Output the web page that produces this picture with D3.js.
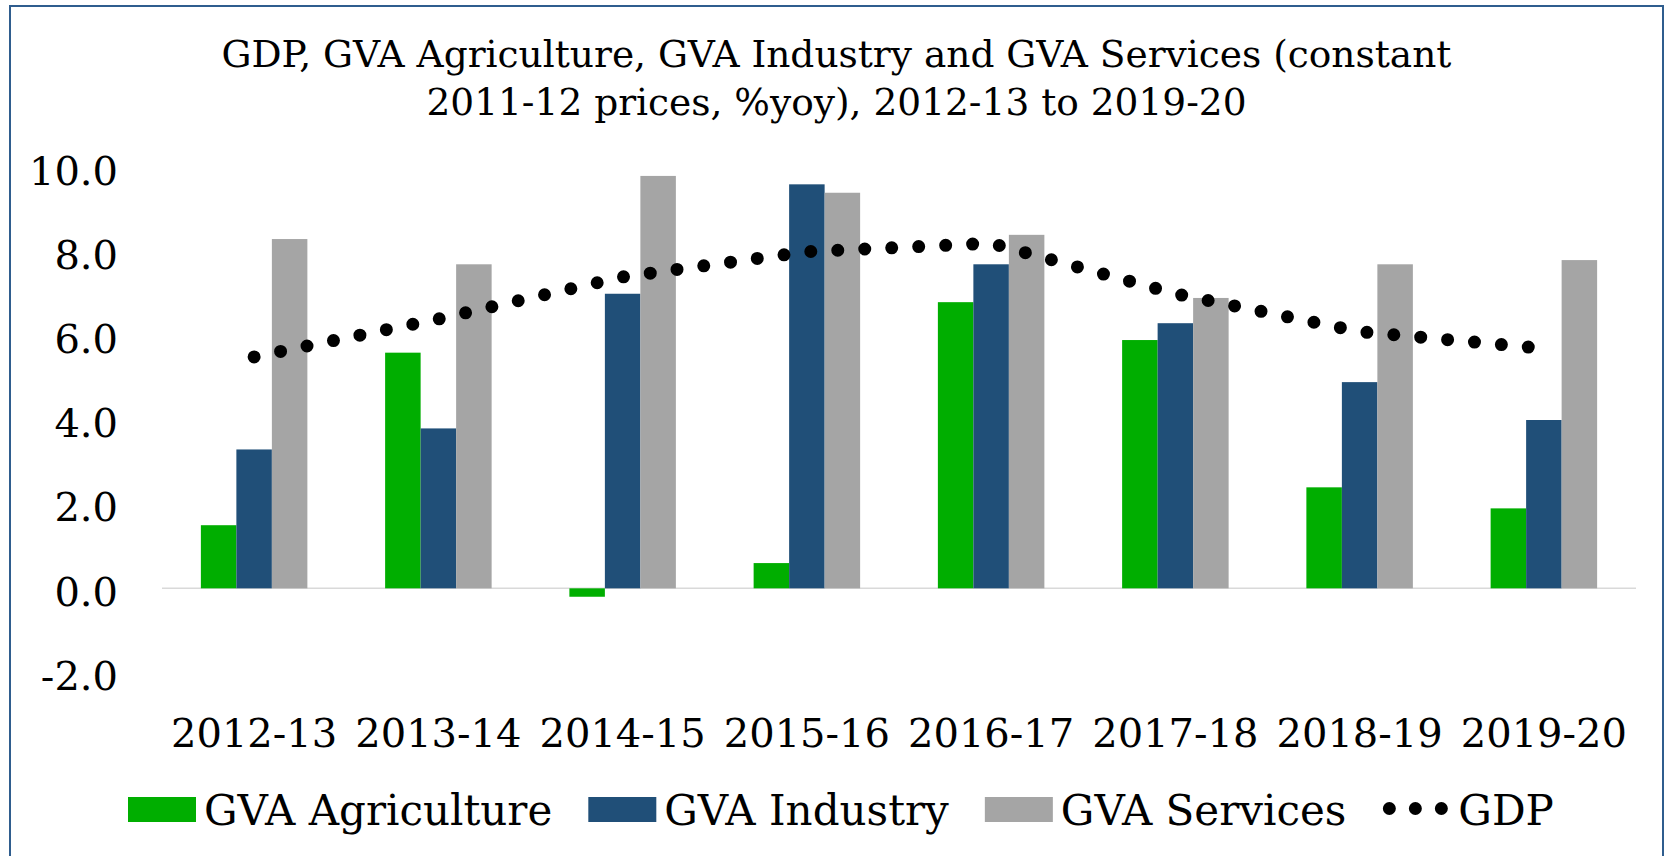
<!DOCTYPE html>
<html>
<head>
<meta charset="utf-8">
<script src="https://cdn.jsdelivr.net/npm/d3@7"></script>
<style>
  html, body { margin: 0; padding: 0; background: #fff; }
  svg { display: block; }
  text { font-family: "DejaVu Serif", Georgia, serif; fill: #000; }
</style>
</head>
<body>
<svg id="chart" width="1667" height="856"></svg>
<script>
// ---- Data ----
const categories = ["2012-13", "2013-14", "2014-15", "2015-16", "2016-17", "2017-18", "2018-19", "2019-20"];
const gvaAgriculture = [1.5, 5.6, -0.2, 0.6, 6.8, 5.9, 2.4, 1.9];
const gvaIndustry    = [3.3, 3.8, 7.0, 9.6, 7.7, 6.3, 4.9, 4.0];
const gvaServices    = [8.3, 7.7, 9.8, 9.4, 8.4, 6.9, 7.7, 7.8];
const gdp            = [5.5, 6.4, 7.4, 8.0, 8.2, 7.0, 6.1, 5.7];
const yTickValues    = [-2, 0, 2, 4, 6, 8, 10];
const yTickLabels    = ["-2.0", "0.0", "2.0", "4.0", "6.0", "8.0", "10.0"];
const seriesNames    = ["GVA Agriculture", "GVA Industry", "GVA Services"];
const lineName       = "GDP";
const titleLines     = ["GDP, GVA Agriculture, GVA Industry and GVA Services (constant",
                        "2011-12 prices, %yoy), 2012-13 to 2019-20"];

// ---- Styles ----
const colors = ["#00AE00", "#204F78", "#A5A5A5"];
const W = 1667, H = 856;
const plot = { left: 162, right: 1636, top: 167.5, bottom: 672.5 };

const svg = d3.select("#chart");

// frame
svg.append("rect")
  .attr("x", 10).attr("y", 6)
  .attr("width", 1653).attr("height", 900)
  .attr("fill", "none")
  .attr("stroke", "#2F5D8E")
  .attr("stroke-width", 2);

// title
const title = svg.append("text")
  .attr("text-anchor", "middle")
  .style("font-size", "37.5px");
titleLines.forEach((t, i) => {
  title.append("tspan").attr("x", W / 2 + 3).attr("y", 67 + i * 48).text(t);
});

// scales
const x0 = d3.scaleBand()
  .domain(categories)
  .range([plot.left, plot.right])
  .paddingInner(0.422)
  .paddingOuter(0.211);
const x1 = d3.scaleBand()
  .domain(seriesNames)
  .range([0, x0.bandwidth()])
  .padding(0);
const y = d3.scaleLinear().domain([-2, 10]).range([plot.bottom, plot.top]);

// y axis (labels only)
const yAxis = svg.append("g")
  .attr("transform", `translate(128,0)`)
  .call(d3.axisLeft(y).tickValues(yTickValues)
    .tickFormat((d, i) => yTickLabels[i])
    .tickSize(0).tickPadding(10));
yAxis.select(".domain").remove();
yAxis.selectAll("text")
  .attr("dy", "0.42em")
  .style("font-family", "'DejaVu Serif', serif")
  .style("font-size", "40px")
  .attr("fill", "#000");

// zero line
svg.append("line")
  .attr("x1", plot.left).attr("x2", plot.right)
  .attr("y1", y(0)).attr("y2", y(0))
  .attr("stroke", "#D9D9D9")
  .attr("stroke-width", 1.5);

// bars
const seriesData = [gvaAgriculture, gvaIndustry, gvaServices];
const groups = svg.append("g").selectAll("g")
  .data(categories)
  .join("g")
  .attr("transform", d => `translate(${x0(d)},0)`);
groups.selectAll("rect")
  .data((d, i) => seriesNames.map((s, k) => ({ s, k, v: seriesData[k][i] })))
  .join("rect")
  .attr("x", d => x1(d.s))
  .attr("width", x1.bandwidth())
  .attr("y", d => y(Math.max(0, d.v)))
  .attr("height", d => Math.abs(y(d.v) - y(0)))
  .attr("fill", d => colors[d.k]);

// GDP dotted line
const line = d3.line()
  .x((d, i) => x0(categories[i]) + x0.bandwidth() / 2)
  .y(d => y(d));
svg.append("path")
  .datum(gdp)
  .attr("d", line)
  .attr("fill", "none")
  .attr("stroke", "#000")
  .attr("stroke-width", 13)
  .attr("stroke-linecap", "round")
  .attr("stroke-dasharray", "0,27");

// x axis (labels only)
const xAxis = svg.append("g")
  .attr("transform", `translate(0,747)`)
  .call(d3.axisBottom(x0).tickSize(0));
xAxis.select(".domain").remove();
xAxis.selectAll("text")
  .attr("y", 0).attr("dy", null)
  .style("font-family", "'DejaVu Serif', serif")
  .style("font-size", "40px")
  .attr("fill", "#000");

// legend
const legend = svg.append("g");
let lx = 128;
const ly = 797, lh = 25, lw = 68;
seriesNames.forEach((name, k) => {
  legend.append("rect")
    .attr("x", lx).attr("y", ly).attr("width", lw).attr("height", lh)
    .attr("fill", colors[k]);
  const t = legend.append("text")
    .attr("x", lx + lw + 8).attr("y", 825)
    .style("font-size", "42px")
    .text(name);
  lx = lx + lw + 8 + t.node().getComputedTextLength() + 36;
});
legend.append("line")
  .attr("x1", lx + 7).attr("x2", lx + 7 + 53)
  .attr("y1", ly + lh / 2 - 1).attr("y2", ly + lh / 2 - 1)
  .attr("stroke", "#000")
  .attr("stroke-width", 13)
  .attr("stroke-linecap", "round")
  .attr("stroke-dasharray", "0,26");
legend.append("text")
  .attr("x", lx + 76).attr("y", 825)
  .style("font-size", "42px")
  .text(lineName);
</script>
</body>
</html>
